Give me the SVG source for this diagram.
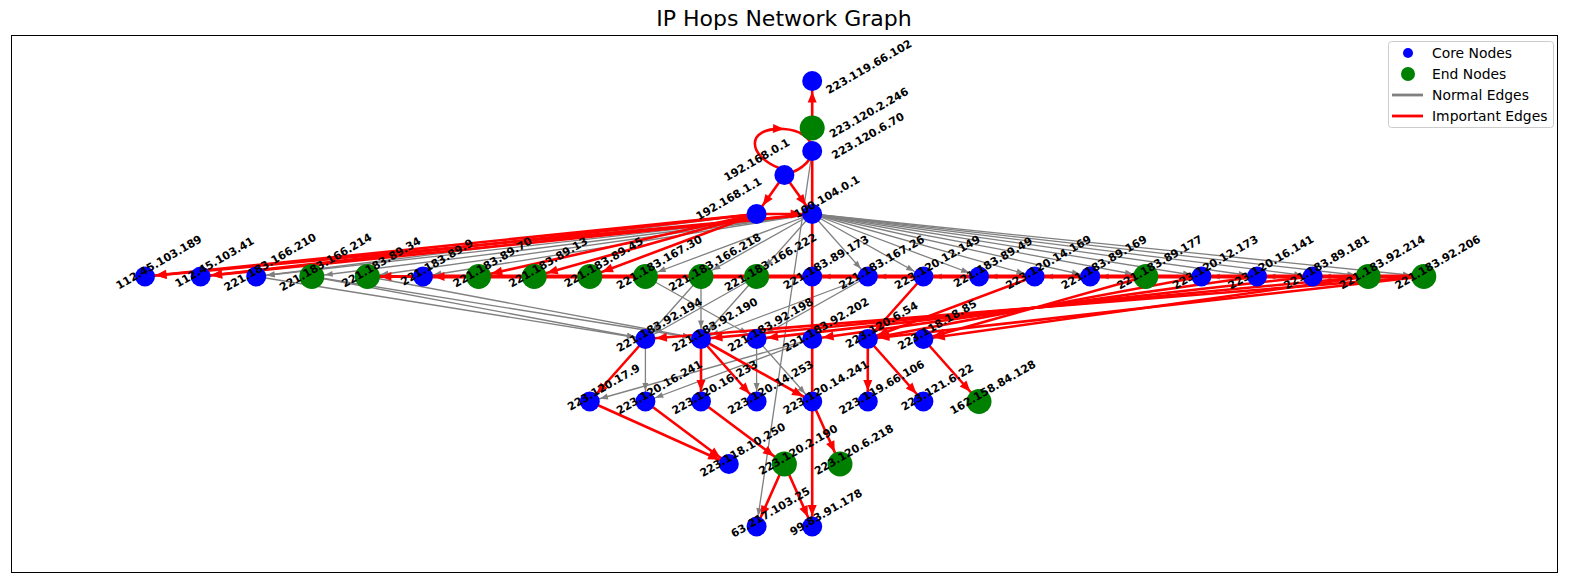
<svg xmlns="http://www.w3.org/2000/svg" width="1570" height="583" viewBox="0 0 1570 583">
<style>
.r{stroke:#ff0000;stroke-width:2.6;fill:none;marker-end:url(#mr)}
.rg{marker-end:url(#mrg)}
.rz{marker-end:url(#mrz)}
.g{stroke:#808080;stroke-width:1.3;fill:none;marker-end:url(#mg)}
.gg{marker-end:url(#mgg)}
.b{fill:#0000ff}
.gn{fill:#008000}
.lb{font-family:"DejaVu Sans",sans-serif;font-weight:bold;font-size:11px;text-anchor:middle;dominant-baseline:central;fill:#000}
.lg{font-family:"DejaVu Sans",sans-serif;font-size:13.9px;fill:#000}
</style>
<defs>
<marker id="mr" markerUnits="userSpaceOnUse" markerWidth="40" markerHeight="20" refX="21.5" refY="4.5" orient="auto" overflow="visible"><path d="M0,0 L11,4.5 L0,9 z" fill="#ff0000"/></marker>
<marker id="mrg" markerUnits="userSpaceOnUse" markerWidth="40" markerHeight="20" refX="24" refY="4.5" orient="auto" overflow="visible"><path d="M0,0 L11,4.5 L0,9 z" fill="#ff0000"/></marker>
<marker id="mrz" markerUnits="userSpaceOnUse" markerWidth="40" markerHeight="20" refX="11" refY="4.5" orient="auto" overflow="visible"><path d="M0,0 L11,4.5 L0,9 z" fill="#ff0000"/></marker>
<marker id="mg" markerUnits="userSpaceOnUse" markerWidth="40" markerHeight="20" refX="18.5" refY="3" orient="auto" overflow="visible"><path d="M0,0 L8,3 L0,6 z" fill="#808080"/></marker>
<marker id="mgg" markerUnits="userSpaceOnUse" markerWidth="40" markerHeight="20" refX="21" refY="3" orient="auto" overflow="visible"><path d="M0,0 L8,3 L0,6 z" fill="#808080"/></marker>
</defs>
<rect x="0" y="0" width="1570" height="583" fill="#ffffff"/>
<text x="784" y="26" text-anchor="middle" style="font-family:'DejaVu Sans',sans-serif;font-size:22px">IP Hops Network Graph</text>
<rect x="11.5" y="35.5" width="1546" height="537" fill="none" stroke="#000" stroke-width="1"/>

<g id="connectors">
<!-- normal (gray) edges -->
<line class="g" x1="812.2" y1="214" x2="256.2" y2="276.5"/>
<line class="g gg" x1="812.2" y1="214" x2="311.8" y2="276.5"/>
<line class="g gg" x1="812.2" y1="214" x2="367.4" y2="276.5"/>
<line class="g" x1="812.2" y1="214" x2="423" y2="276.5"/>
<line class="g" x1="756.6" y1="214" x2="256.2" y2="276.5"/>
<line class="g gg" x1="812.2" y1="214" x2="645.4" y2="276.5"/>
<line class="g gg" x1="812.2" y1="214" x2="701" y2="276.5"/>
<line class="g gg" x1="812.2" y1="214" x2="756.6" y2="276.5"/>
<line class="g" x1="812.2" y1="214" x2="867.8" y2="276.5"/>
<line class="g" x1="812.2" y1="214" x2="923.4" y2="276.5"/>
<line class="g" x1="812.2" y1="214" x2="979" y2="276.5"/>
<line class="g" x1="812.2" y1="214" x2="1034.6" y2="276.5"/>
<line class="g" x1="812.2" y1="214" x2="1090.2" y2="276.5"/>
<line class="g gg" x1="812.2" y1="214" x2="1145.8" y2="276.5"/>
<line class="g" x1="812.2" y1="214" x2="1201.4" y2="276.5"/>
<line class="g" x1="812.2" y1="214" x2="1257" y2="276.5"/>
<line class="g" x1="812.2" y1="214" x2="1312.6" y2="276.5"/>
<line class="g gg" x1="812.2" y1="214" x2="1368.2" y2="276.5"/>
<line class="g gg" x1="812.2" y1="214" x2="1423.8" y2="276.5"/>
<line class="g" x1="1368.2" y1="276.5" x2="1312.6" y2="276.5"/>
<line class="g" x1="1312.6" y1="276.5" x2="1257" y2="276.5"/>
<line class="g" x1="1257" y1="276.5" x2="1201.4" y2="276.5"/>
<line class="g" x1="1145.8" y1="276.5" x2="1090.2" y2="276.5"/>
<line class="g" x1="1090.2" y1="276.5" x2="1034.6" y2="276.5"/>
<line class="g" x1="1034.6" y1="276.5" x2="979" y2="276.5"/>
<line class="g" x1="979" y1="276.5" x2="923.4" y2="276.5"/>
<line class="g" x1="923.4" y1="276.5" x2="867.8" y2="276.5"/>
<line class="g" x1="867.8" y1="276.5" x2="812.2" y2="276.5"/>
<line class="g" x1="256.2" y1="276.5" x2="645.4" y2="339"/>
<line class="g" x1="311.8" y1="276.5" x2="645.4" y2="339"/>
<line class="g" x1="311.8" y1="276.5" x2="701" y2="339"/>
<line class="g" x1="367.4" y1="276.5" x2="701" y2="339"/>
<line class="g" x1="701" y1="276.5" x2="645.4" y2="339"/>
<line class="g" x1="701" y1="276.5" x2="701" y2="339"/>
<line class="g" x1="756.6" y1="276.5" x2="645.4" y2="339"/>
<line class="g" x1="756.6" y1="276.5" x2="701" y2="339"/>
<line class="g" x1="645.4" y1="276.5" x2="756.6" y2="339"/>
<line class="g" x1="867.8" y1="276.5" x2="701" y2="339"/>
<line class="g" x1="867.8" y1="276.5" x2="756.6" y2="339"/>
<line class="g" x1="645.4" y1="339" x2="645.4" y2="401.5"/>
<line class="g" x1="756.6" y1="339" x2="756.6" y2="401.5"/>
<line class="g" x1="756.6" y1="339" x2="812.2" y2="401.5"/>
<line class="g" x1="812.2" y1="339" x2="589.8" y2="401.5"/>
<line class="g" x1="812.2" y1="339" x2="645.4" y2="401.5"/>
<line class="g" x1="812.2" y1="151" x2="756.6" y2="526.5"/>
<!-- important (red) edges -->
<line class="r" x1="812.2" y1="128" x2="812.2" y2="81"/>
<line class="r" x1="784.4" y1="175" x2="756.6" y2="214"/>
<line class="r" x1="784.4" y1="175" x2="812.2" y2="214"/>
<path class="r rz" d="M779,168 C748,156 744,127 784,129"/>
<path class="r" style="marker-end:none" d="M784,129 C815,131 824,158 793,172"/>
<line class="r" x1="812.2" y1="151" x2="812.2" y2="526.5"/>
<line class="r" x1="756.6" y1="214" x2="812.2" y2="214"/>
<line class="r" x1="812.2" y1="214" x2="145" y2="276.5"/>
<line class="r" x1="756.6" y1="214" x2="145" y2="276.5"/>
<line class="r" x1="812.2" y1="214" x2="200.6" y2="276.5"/>
<line class="r" x1="756.6" y1="214" x2="200.6" y2="276.5"/>
<line class="r rg" x1="756.6" y1="214" x2="478.6" y2="276.5"/>
<line class="r rg" x1="756.6" y1="214" x2="534.2" y2="276.5"/>
<line class="r rg" x1="756.6" y1="214" x2="589.8" y2="276.5"/>
<line class="r" style="stroke-width:4" x1="1423.8" y1="276.5" x2="423" y2="276.5"/>
<line class="r rg" style="stroke-width:3" x1="1423.8" y1="276.5" x2="367.4" y2="276.5"/>
<line class="r" x1="1423.8" y1="276.5" x2="645.4" y2="339"/>
<line class="r" x1="1368.2" y1="276.5" x2="701" y2="339"/>
<line class="r" x1="1312.6" y1="276.5" x2="756.6" y2="339"/>
<line class="r" x1="1257" y1="276.5" x2="812.2" y2="339"/>
<line class="r" x1="1201.4" y1="276.5" x2="867.8" y2="339"/>
<line class="r" x1="1145.8" y1="276.5" x2="923.4" y2="339"/>
<line class="r" x1="1423.8" y1="276.5" x2="867.8" y2="339"/>
<line class="r" x1="1368.2" y1="276.5" x2="923.4" y2="339"/>
<line class="r" x1="923.4" y1="276.5" x2="867.8" y2="339"/>
<line class="r" x1="1034.6" y1="276.5" x2="867.8" y2="339"/>
<line class="r" x1="645.4" y1="339" x2="589.8" y2="401.5"/>
<line class="r" x1="701" y1="339" x2="701" y2="401.5"/>
<line class="r" x1="701" y1="339" x2="756.6" y2="401.5"/>
<line class="r" x1="701" y1="339" x2="812.2" y2="401.5"/>
<line class="r" x1="867.8" y1="339" x2="867.8" y2="401.5"/>
<line class="r" x1="867.8" y1="339" x2="923.4" y2="401.5"/>
<line class="r rg" x1="923.4" y1="339" x2="979" y2="401.5"/>
<line class="r" x1="589.8" y1="401.5" x2="728.8" y2="464"/>
<line class="r" x1="645.4" y1="401.5" x2="728.8" y2="464"/>
<line class="r rg" x1="701" y1="401.5" x2="784.4" y2="464"/>
<line class="r rg" x1="812.2" y1="401.5" x2="840" y2="464"/>
<line class="r" x1="784.4" y1="464" x2="756.6" y2="526.5"/>
<line class="r" x1="784.4" y1="464" x2="812.2" y2="526.5"/>
</g>

<g id="n-223.119.66.102"><circle class="b" cx="812.2" cy="81" r="10"/><text class="lb" transform="translate(869,67) rotate(-30)">223.119.66.102</text></g>
<g id="n-223.120.2.246"><circle class="gn" cx="812.2" cy="128" r="12.5"/><text class="lb" transform="translate(869,113) rotate(-30)">223.120.2.246</text></g>
<g id="n-223.120.6.70"><circle class="b" cx="812.2" cy="151" r="10"/><text class="lb" transform="translate(868,136) rotate(-30)">223.120.6.70</text></g>
<g id="n-192.168.0.1"><circle class="b" cx="784.4" cy="175" r="10"/><text class="lb" transform="translate(757,160) rotate(-30)">192.168.0.1</text></g>
<g id="n-192.168.1.1"><circle class="b" cx="756.6" cy="214" r="10"/><text class="lb" transform="translate(729,199) rotate(-30)">192.168.1.1</text></g>
<g id="n-100.104.0.1"><circle class="b" cx="812.2" cy="214" r="10"/><text class="lb" transform="translate(827,197) rotate(-30)">100.104.0.1</text></g>

<g id="n-112.45.103.189"><circle class="b" cx="145" cy="276.5" r="10"/><text class="lb" transform="translate(159,262.5) rotate(-30)">112.45.103.189</text></g>
<g id="n-112.45.103.41"><circle class="b" cx="200.6" cy="276.5" r="10"/><text class="lb" transform="translate(214.6,262.5) rotate(-30)">112.45.103.41</text></g>
<g id="n-221.183.166.210"><circle class="b" cx="256.2" cy="276.5" r="10"/><text class="lb" transform="translate(270.2,262.5) rotate(-30)">221.183.166.210</text></g>
<g id="n-221.183.166.214"><circle class="gn" cx="311.8" cy="276.5" r="12.5"/><text class="lb" transform="translate(325.8,262.5) rotate(-30)">221.183.166.214</text></g>
<g id="n-221.183.89.34"><circle class="gn" cx="367.4" cy="276.5" r="12.5"/><text class="lb" transform="translate(381.4,262.5) rotate(-30)">221.183.89.34</text></g>
<g id="n-221.183.89.9"><circle class="b" cx="423" cy="276.5" r="10"/><text class="lb" transform="translate(437,262.5) rotate(-30)">221.183.89.9</text></g>
<g id="n-221.183.89.70"><circle class="gn" cx="478.6" cy="276.5" r="12.5"/><text class="lb" transform="translate(492.6,262.5) rotate(-30)">221.183.89.70</text></g>
<g id="n-221.183.89.13"><circle class="gn" cx="534.2" cy="276.5" r="12.5"/><text class="lb" transform="translate(548.2,262.5) rotate(-30)">221.183.89.13</text></g>
<g id="n-221.183.89.45"><circle class="gn" cx="589.8" cy="276.5" r="12.5"/><text class="lb" transform="translate(603.8,262.5) rotate(-30)">221.183.89.45</text></g>
<g id="n-221.183.167.30"><circle class="gn" cx="645.4" cy="276.5" r="12.5"/><text class="lb" transform="translate(659.4,262.5) rotate(-30)">221.183.167.30</text></g>
<g id="n-221.183.166.218"><circle class="gn" cx="701" cy="276.5" r="12.5"/><text class="lb" transform="translate(715,262.5) rotate(-30)">221.183.166.218</text></g>
<g id="n-221.183.166.222"><circle class="gn" cx="756.6" cy="276.5" r="12.5"/><text class="lb" transform="translate(770.6,262.5) rotate(-30)">221.183.166.222</text></g>
<g id="n-221.183.89.173"><circle class="b" cx="812.2" cy="276.5" r="10"/><text class="lb" transform="translate(826.2,262.5) rotate(-30)">221.183.89.173</text></g>
<g id="n-221.183.167.26"><circle class="b" cx="867.8" cy="276.5" r="10"/><text class="lb" transform="translate(881.8,262.5) rotate(-30)">221.183.167.26</text></g>
<g id="n-223.120.12.149"><circle class="b" cx="923.4" cy="276.5" r="10"/><text class="lb" transform="translate(937.4,262.5) rotate(-30)">223.120.12.149</text></g>
<g id="n-221.183.89.49"><circle class="b" cx="979" cy="276.5" r="10"/><text class="lb" transform="translate(993,262.5) rotate(-30)">221.183.89.49</text></g>
<g id="n-223.120.14.169"><circle class="b" cx="1034.6" cy="276.5" r="10"/><text class="lb" transform="translate(1048.6,262.5) rotate(-30)">223.120.14.169</text></g>
<g id="n-221.183.89.169"><circle class="b" cx="1090.2" cy="276.5" r="10"/><text class="lb" transform="translate(1104.2,262.5) rotate(-30)">221.183.89.169</text></g>
<g id="n-221.183.89.177"><circle class="gn" cx="1145.8" cy="276.5" r="12.5"/><text class="lb" transform="translate(1159.8,262.5) rotate(-30)">221.183.89.177</text></g>
<g id="n-223.120.12.173"><circle class="b" cx="1201.4" cy="276.5" r="10"/><text class="lb" transform="translate(1215.4,262.5) rotate(-30)">223.120.12.173</text></g>
<g id="n-223.120.16.141"><circle class="b" cx="1257" cy="276.5" r="10"/><text class="lb" transform="translate(1271,262.5) rotate(-30)">223.120.16.141</text></g>
<g id="n-221.183.89.181"><circle class="b" cx="1312.6" cy="276.5" r="10"/><text class="lb" transform="translate(1326.6,262.5) rotate(-30)">221.183.89.181</text></g>
<g id="n-221.183.92.214"><circle class="gn" cx="1368.2" cy="276.5" r="12.5"/><text class="lb" transform="translate(1382.2,262.5) rotate(-30)">221.183.92.214</text></g>
<g id="n-221.183.92.206"><circle class="gn" cx="1423.8" cy="276.5" r="12.5"/><text class="lb" transform="translate(1437.8,262.5) rotate(-30)">221.183.92.206</text></g>

<g id="n-221.183.92.194"><circle class="b" cx="645.4" cy="339" r="10"/><text class="lb" transform="translate(659.4,325) rotate(-30)">221.183.92.194</text></g>
<g id="n-221.183.92.190"><circle class="b" cx="701" cy="339" r="10"/><text class="lb" transform="translate(715,325) rotate(-30)">221.183.92.190</text></g>
<g id="n-221.183.92.198"><circle class="b" cx="756.6" cy="339" r="10"/><text class="lb" transform="translate(770.6,325) rotate(-30)">221.183.92.198</text></g>
<g id="n-221.183.92.202"><circle class="b" cx="812.2" cy="339" r="10"/><text class="lb" transform="translate(826.2,325) rotate(-30)">221.183.92.202</text></g>
<g id="n-223.120.6.54"><circle class="b" cx="867.8" cy="339" r="10"/><text class="lb" transform="translate(881.8,325) rotate(-30)">223.120.6.54</text></g>
<g id="n-223.118.18.85"><circle class="b" cx="923.4" cy="339" r="10"/><text class="lb" transform="translate(937.4,325) rotate(-30)">223.118.18.85</text></g>

<g id="n-223.120.17.9"><circle class="b" cx="589.8" cy="401.5" r="10"/><text class="lb" transform="translate(603.8,387.5) rotate(-30)">223.120.17.9</text></g>
<g id="n-223.120.16.241"><circle class="b" cx="645.4" cy="401.5" r="10"/><text class="lb" transform="translate(659.4,387.5) rotate(-30)">223.120.16.241</text></g>
<g id="n-223.120.16.233"><circle class="b" cx="701" cy="401.5" r="10"/><text class="lb" transform="translate(715,387.5) rotate(-30)">223.120.16.233</text></g>
<g id="n-223.120.14.253"><circle class="b" cx="756.6" cy="401.5" r="10"/><text class="lb" transform="translate(770.6,387.5) rotate(-30)">223.120.14.253</text></g>
<g id="n-223.120.14.241"><circle class="b" cx="812.2" cy="401.5" r="10"/><text class="lb" transform="translate(826.2,387.5) rotate(-30)">223.120.14.241</text></g>
<g id="n-223.119.66.106"><circle class="b" cx="867.8" cy="401.5" r="10"/><text class="lb" transform="translate(881.8,387.5) rotate(-30)">223.119.66.106</text></g>
<g id="n-223.121.6.22"><circle class="b" cx="923.4" cy="401.5" r="10"/><text class="lb" transform="translate(937.4,387.5) rotate(-30)">223.121.6.22</text></g>
<g id="n-162.158.84.128"><circle class="gn" cx="979" cy="401.5" r="12.5"/><text class="lb" transform="translate(993,387.5) rotate(-30)">162.158.84.128</text></g>

<g id="n-223.118.10.250"><circle class="b" cx="728.8" cy="464" r="10"/><text class="lb" transform="translate(742.8,450) rotate(-30)">223.118.10.250</text></g>
<g id="n-223.120.2.190"><circle class="gn" cx="784.4" cy="464" r="12.5"/><text class="lb" transform="translate(798.4,450) rotate(-30)">223.120.2.190</text></g>
<g id="n-223.120.6.218"><circle class="gn" cx="840" cy="464" r="12.5"/><text class="lb" transform="translate(854,450) rotate(-30)">223.120.6.218</text></g>

<g id="n-63.217.103.25"><circle class="b" cx="756.6" cy="526.5" r="10"/><text class="lb" transform="translate(770.6,512.5) rotate(-30)">63.217.103.25</text></g>
<g id="n-99.83.91.178"><circle class="b" cx="812.2" cy="526.5" r="10"/><text class="lb" transform="translate(826.2,512.5) rotate(-30)">99.83.91.178</text></g>

<g id="legend">
<rect x="1388.5" y="41.5" width="165" height="86" rx="3" fill="#ffffff" fill-opacity="0.8" stroke="#cccccc"/>
<circle cx="1408" cy="53" r="5" fill="#0000ff"/>
<text class="lg" x="1432" y="58">Core Nodes</text>
<circle cx="1408" cy="74" r="7" fill="#008000"/>
<text class="lg" x="1432" y="79">End Nodes</text>
<line x1="1392" y1="95" x2="1423" y2="95" stroke="#808080" stroke-width="2.8"/>
<text class="lg" x="1432" y="100">Normal Edges</text>
<line x1="1392" y1="116" x2="1423" y2="116" stroke="#ff0000" stroke-width="2.8"/>
<text class="lg" x="1432" y="121">Important Edges</text>
</g>
</svg>
